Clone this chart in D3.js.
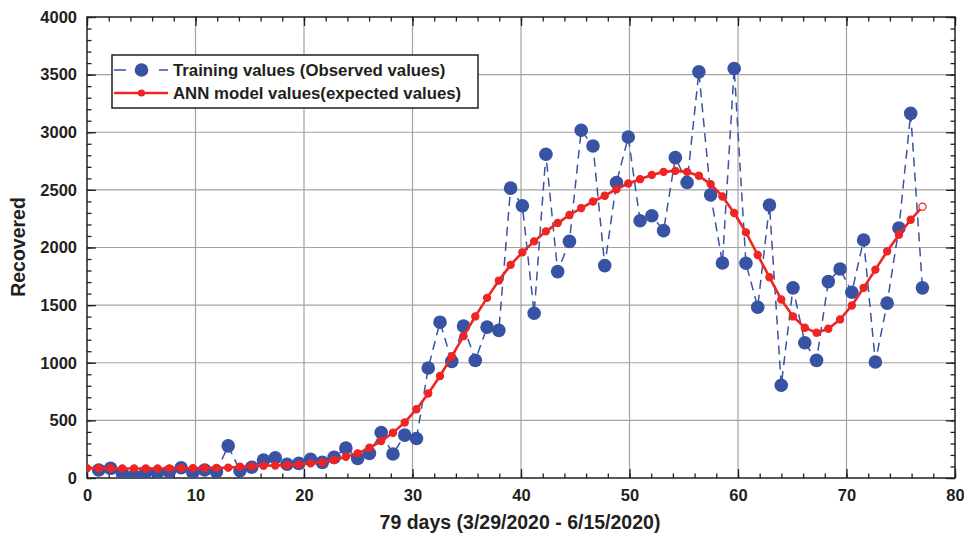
<!DOCTYPE html>
<html>
<head>
<meta charset="utf-8">
<script src="https://cdn.jsdelivr.net/npm/d3@7"></script>
<style>
  body { margin: 0; background: #fff; }
  svg text { font-family: "Liberation Sans", Arial, Helvetica, sans-serif; font-weight: bold; fill: #231f20; }
</style>
</head>
<body>
<div id="chart"></div>
<script>
// observed recoveries (training values), first sample has no marker
const observed = [null, 69, 84, 41, 20, 49, 46, 55, 89, 46, 69, 55, 279, 63, 93, 156, 176, 119, 127, 162,
  136, 179, 260, 170, 214, 395, 208, 372, 343, 954, 1352, 1012, 1318, 1021, 1309, 1281, 2515, 2362, 1430, 2809,
  1791, 2053, 3017, 2881, 1843, 2564, 2959, 2232, 2275, 2146, 2780, 2564, 3524, 2457, 1866, 3553, 1863, 1482, 2368, 805,
  1650, 1174, 1021, 1704, 1814, 1612, 2065, 1006, 1517, 2169, 3164, 1650];

// ANN model output (expected values)
const expected = [84, 84, 83, 83, 82, 82, 82, 83, 84, 85, 86, 88, 90, 98, 101, 107, 109, 112, 118, 127,
  136, 156, 184, 214, 262, 320, 392, 482, 597, 733, 885, 1056, 1231, 1402, 1563, 1713, 1849, 1958, 2053, 2140,
  2212, 2282, 2342, 2399, 2449, 2506, 2555, 2593, 2630, 2656, 2665, 2656, 2622, 2550, 2443, 2299, 2131, 1935, 1742, 1549,
  1402, 1304, 1261, 1295, 1376, 1497, 1650, 1808, 1967, 2111, 2241, 2353];

const xDomain = [0, 80];
const yDomain = [0, 4000];
const xTicks = [0, 10, 20, 30, 40, 50, 60, 70, 80];
const yTicks = [0, 500, 1000, 1500, 2000, 2500, 3000, 3500, 4000];
const lastDay = 77;

const legendLabels = ["Training values (Observed values)", "ANN model values(expected values)"];
const xLabel = "79 days (3/29/2020 - 6/15/2020)";
const yLabel = "Recovered";

const W = 964, H = 533;
const pLeft = 87, pRight = 955, pTop = 17, pBottom = 478;
const blue = "#3953a4", red = "#ee2524";

const svg = d3.select("#chart").append("svg")
  .attr("width", W).attr("height", H);

const x = d3.scaleLinear().domain(xDomain).range([pLeft, pRight]);
const y = d3.scaleLinear().domain(yDomain).range([pBottom, pTop]);
// sample index -> day
const day = d3.scaleLinear().domain([0, expected.length - 1]).range([0, lastDay]);

svg.append("defs").append("clipPath").attr("id", "plot")
  .append("rect").attr("x", pLeft).attr("y", pTop)
  .attr("width", pRight - pLeft).attr("height", pBottom - pTop);

// grid
svg.append("g").selectAll("line").data(xTicks.slice(1, -1)).enter().append("line")
  .attr("x1", d => x(d)).attr("x2", d => x(d))
  .attr("y1", pTop).attr("y2", pBottom)
  .attr("stroke", "#a3a3a3").attr("stroke-width", 1.2);
svg.append("g").selectAll("line").data(yTicks.slice(1, -1)).enter().append("line")
  .attr("y1", d => y(d)).attr("y2", d => y(d))
  .attr("x1", pLeft).attr("x2", pRight)
  .attr("stroke", "#a3a3a3").attr("stroke-width", 1.2);

// ticks on all four sides, pointing in
const xMinor = d3.range(0, 81, 2), yMinor = d3.range(0, 4001, 100);
function addAxis(axis, tf) {
  const g = svg.append("g").attr("transform", tf).call(axis);
  g.select(".domain").remove();
  g.selectAll("line").attr("stroke", "#231f20").attr("stroke-width", 1.3);
  return g;
}
addAxis(d3.axisBottom(x).tickValues(xMinor).tickSize(-4.5).tickFormat(""), `translate(0,${pBottom})`);
addAxis(d3.axisTop(x).tickValues(xMinor).tickSize(-4.5).tickFormat(""), `translate(0,${pTop})`);
addAxis(d3.axisLeft(y).tickValues(yMinor).tickSize(-4.5).tickFormat(""), `translate(${pLeft},0)`);
addAxis(d3.axisRight(y).tickValues(yMinor).tickSize(-4.5).tickFormat(""), `translate(${pRight},0)`);
addAxis(d3.axisTop(x).tickValues(xTicks).tickSize(-9).tickFormat(""), `translate(0,${pTop})`);
addAxis(d3.axisRight(y).tickValues(yTicks).tickSize(-9).tickFormat(""), `translate(${pRight},0)`);

const xa = addAxis(d3.axisBottom(x).tickValues(xTicks).tickSize(-9).tickPadding(11).tickFormat(d3.format("d")),
  `translate(0,${pBottom})`);
xa.selectAll("text").attr("font-size", 16.5).attr("font-family", null).attr("fill", null);
const ya = addAxis(d3.axisLeft(y).tickValues(yTicks).tickSize(-9).tickPadding(10).tickFormat(d3.format("d")),
  `translate(${pLeft},0)`);
ya.selectAll("text").attr("font-size", 16.5).attr("font-family", null).attr("fill", null);

// frame
svg.append("rect").attr("x", pLeft).attr("y", pTop)
  .attr("width", pRight - pLeft).attr("height", pBottom - pTop)
  .attr("fill", "none").attr("stroke", "#231f20").attr("stroke-width", 1.5);

const plot = svg.append("g").attr("clip-path", "url(#plot)");

// observed: dashed line + big markers
const obs = observed.map((v, i) => ({ d: day(i), v: v })).filter(p => p.v != null);
plot.append("path").datum(obs)
  .attr("d", d3.line().x(p => x(p.d)).y(p => y(p.v)))
  .attr("fill", "none").attr("stroke", blue).attr("stroke-width", 1.5)
  .attr("stroke-dasharray", "9,6");
plot.append("g").selectAll("circle").data(obs).enter().append("circle")
  .attr("cx", p => x(p.d)).attr("cy", p => y(p.v)).attr("r", 6.8)
  .attr("fill", blue);

// expected: solid red line + small markers
const exp = expected.map((v, i) => ({ d: day(i), v: v }));
plot.append("path").datum(exp)
  .attr("d", d3.line().x(p => x(p.d)).y(p => y(p.v)))
  .attr("fill", "none").attr("stroke", red).attr("stroke-width", 2.6);
plot.append("g").selectAll("circle").data(exp).enter().append("circle")
  .attr("cx", p => x(p.d)).attr("cy", p => y(p.v)).attr("r", 3.6)
  .attr("fill", (p, i) => i == exp.length - 1 ? "#fff" : red)
  .attr("stroke", red).attr("stroke-width", 1.2);

// legend
const lg = svg.append("g");
lg.append("rect").attr("x", 112).attr("y", 55).attr("width", 366).attr("height", 53)
  .attr("fill", "#fff").attr("stroke", "#231f20").attr("stroke-width", 1.5);
lg.append("line").attr("x1", 114).attr("x2", 168).attr("y1", 70).attr("y2", 70)
  .attr("stroke", blue).attr("stroke-width", 1.5).attr("stroke-dasharray", "12,33");
lg.append("circle").attr("cx", 141.5).attr("cy", 70).attr("r", 6.8).attr("fill", blue);
lg.append("line").attr("x1", 114).attr("x2", 168).attr("y1", 93).attr("y2", 93)
  .attr("stroke", red).attr("stroke-width", 2.6);
lg.append("circle").attr("cx", 141.5).attr("cy", 93).attr("r", 3.6).attr("fill", red);
lg.selectAll("text").data(legendLabels).enter().append("text")
  .attr("x", 173).attr("y", (d, i) => 70 + i * 23).attr("dy", "0.35em")
  .attr("font-size", 16.8).text(d => d);

// axis titles
svg.append("text").attr("x", 520).attr("y", 529)
  .attr("text-anchor", "middle").attr("font-size", 19.5).text(xLabel);
svg.append("text").attr("transform", "translate(25,247) rotate(-90)")
  .attr("text-anchor", "middle").attr("font-size", 19.5).text(yLabel);
</script>
</body>
</html>
